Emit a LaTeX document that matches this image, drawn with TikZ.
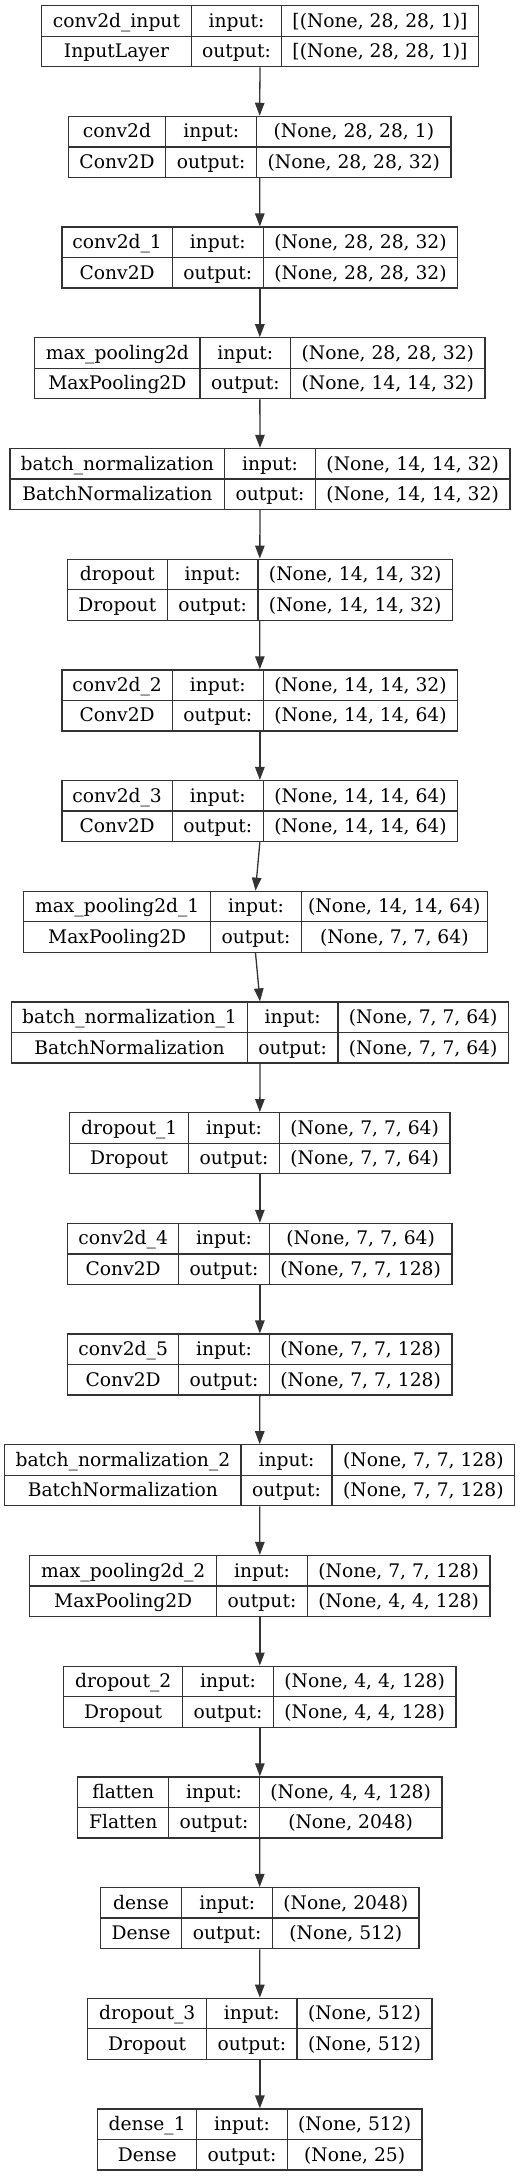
\documentclass[tikz,border=0pt]{standalone}
\usepackage{fontspec}
\setmainfont{DejaVu Serif}
\usetikzlibrary{arrows.meta}
\definecolor{edge}{HTML}{333333}
\tikzstyle{layerbox} = [rectangle, minimum height=61pt, inner sep=0pt, draw=edge, line width=1.3pt]
\tikzstyle{cell} = [font=\fontsize{18.7}{22}\selectfont, inner sep=0pt, anchor=base, text centered]
\tikzstyle{grid} = [draw=edge, line width=1.3pt]
\tikzstyle{arrow} = [draw=edge, line width=1.3pt, -{Triangle[length=13pt, width=9.5pt]}]

% #1 index, #2 left, #3 first rule, #4 second rule, #5 right, #6 name, #7 type, #8 input, #9 output
\newcommand{\layer}[9]{
    \pgfmathsetmacro\layertop{5.7+110.7*(#1-1)}
    \pgfmathsetmacro\layerw{#5-#2}
    \pgfmathsetmacro\layerx{(#2+#5)/2}
    \node (l#1) [layerbox, minimum width=\layerw pt] at (\layerx,\layertop+30.5) {};
    \draw [grid] (#3,\layertop)--(#3,\layertop+61);
    \draw [grid] (#4,\layertop)--(#4,\layertop+61);
    \draw [grid] (l#1.west)--(l#1.east);
    \node (l#1name) [cell] at ({(#2+#3)/2},\layertop+21.5) {#6};
    \node (l#1type) [cell] at ({(#2+#3)/2},\layertop+52) {#7};
    \node (l#1inl) [cell] at ({(#3+#4)/2},\layertop+21.5) {input:};
    \node (l#1outl) [cell] at ({(#3+#4)/2},\layertop+52) {output:};
    \node (l#1in) [cell] at ({(#4+#5)/2},\layertop+21.5) {#8};
    \node (l#1out) [cell] at ({(#4+#5)/2},\layertop+52) {#9};
}

\begin{document}
\begin{tikzpicture}[x=1pt, y=-1pt]
    \path [use as bounding box, fill=white] (0,0) rectangle (520,2176);

    \layer{1}{41.7}{191.3}{281.7}{478.3}{conv2d\_input}{InputLayer}{[(None, 28, 28, 1)]}{[(None, 28, 28, 1)]}
    \layer{2}{68.3}{165.7}{256.7}{451}{conv2d}{Conv2D}{(None, 28, 28, 1)}{(None, 28, 28, 32)}
    \layer{3}{62}{172.3}{263.3}{457.7}{conv2d\_1}{Conv2D}{(None, 28, 28, 32)}{(None, 28, 28, 32)}
    \layer{4}{34.7}{200}{290.7}{485}{max\_pooling2d}{MaxPooling2D}{(None, 28, 28, 32)}{(None, 14, 14, 32)}
    \layer{5}{10}{224.7}{315.3}{510}{batch\_normalization}{BatchNormalization}{(None, 14, 14, 32)}{(None, 14, 14, 32)}
    \layer{6}{67.3}{167.3}{258}{452.3}{dropout}{Dropout}{(None, 14, 14, 32)}{(None, 14, 14, 32)}
    \layer{7}{62}{172.3}{263.3}{457.7}{conv2d\_2}{Conv2D}{(None, 14, 14, 32)}{(None, 14, 14, 64)}
    \layer{8}{62}{172.3}{263.3}{457.7}{conv2d\_3}{Conv2D}{(None, 14, 14, 64)}{(None, 14, 14, 64)}
    \layer{9}{23.7}{210.7}{301.3}{487.3}{max\_pooling2d\_1}{MaxPooling2D}{(None, 14, 14, 64)}{(None, 7, 7, 64)}
    \layer{10}{11.7}{247.3}{338}{508.3}{batch\_normalization\_1}{BatchNormalization}{(None, 7, 7, 64)}{(None, 7, 7, 64)}
    \layer{11}{69.7}{188.7}{279.3}{450}{dropout\_1}{Dropout}{(None, 7, 7, 64)}{(None, 7, 7, 64)}
    \layer{12}{67.7}{178.7}{269.3}{452}{conv2d\_4}{Conv2D}{(None, 7, 7, 64)}{(None, 7, 7, 128)}
    \layer{13}{67.7}{178.7}{269.3}{452}{conv2d\_5}{Conv2D}{(None, 7, 7, 128)}{(None, 7, 7, 128)}
    \layer{14}{4.7}{241}{332}{514.7}{batch\_normalization\_2}{BatchNormalization}{(None, 7, 7, 128)}{(None, 7, 7, 128)}
    \layer{15}{29.7}{216.7}{307.3}{490}{max\_pooling2d\_2}{MaxPooling2D}{(None, 7, 7, 128)}{(None, 4, 4, 128)}
    \layer{16}{63.7}{182.7}{273.3}{456}{dropout\_2}{Dropout}{(None, 4, 4, 128)}{(None, 4, 4, 128)}
    \layer{17}{77.7}{168.7}{259.3}{442}{flatten}{Flatten}{(None, 4, 4, 128)}{(None, 2048)}
    \layer{18}{100.3}{181.7}{272.7}{419}{dense}{Dense}{(None, 2048)}{(None, 512)}
    \layer{19}{87.7}{206.7}{297}{432}{dropout\_3}{Dropout}{(None, 512)}{(None, 512)}
    \layer{20}{97.7}{196.7}{287.3}{422}{dense\_1}{Dense}{(None, 512)}{(None, 25)}

    \draw [arrow] (l1.south)--(l2.north);
    \draw [arrow] (l2.south)--(l3.north);
    \draw [arrow] (l3.south)--(l4.north);
    \draw [arrow] (l4.south)--(l5.north);
    \draw [arrow] (l5.south)--(l6.north);
    \draw [arrow] (l6.south)--(l7.north);
    \draw [arrow] (l7.south)--(l8.north);
    \draw [arrow] (l8.south)--(l9.north);
    \draw [arrow] (l9.south)--(l10.north);
    \draw [arrow] (l10.south)--(l11.north);
    \draw [arrow] (l11.south)--(l12.north);
    \draw [arrow] (l12.south)--(l13.north);
    \draw [arrow] (l13.south)--(l14.north);
    \draw [arrow] (l14.south)--(l15.north);
    \draw [arrow] (l15.south)--(l16.north);
    \draw [arrow] (l16.south)--(l17.north);
    \draw [arrow] (l17.south)--(l18.north);
    \draw [arrow] (l18.south)--(l19.north);
    \draw [arrow] (l19.south)--(l20.north);

\end{tikzpicture}
\end{document}
